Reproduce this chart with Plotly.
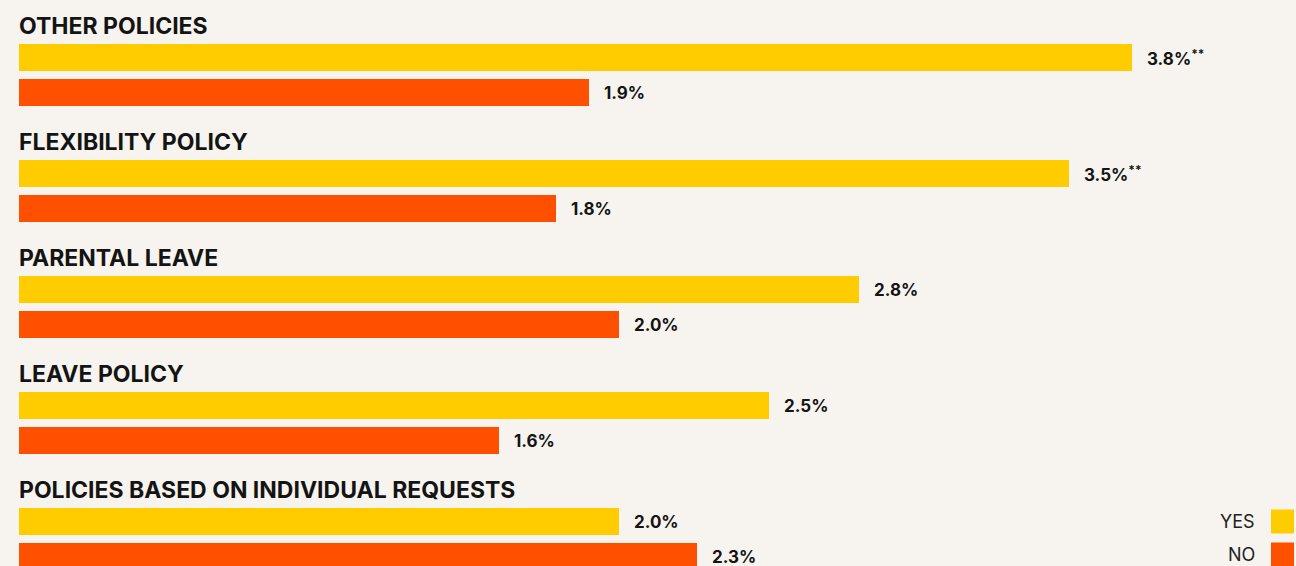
import plotly.graph_objects as go

categories = ["OTHER POLICIES", "FLEXIBILITY POLICY", "PARENTAL LEAVE", "LEAVE POLICY",
              "POLICIES BASED ON INDIVIDUAL REQUESTS"]
yes_values = [3.71, 3.50, 2.80, 2.50, 2.00]
no_values = [1.90, 1.79, 2.00, 1.60, 2.26]
yes_labels = ["3.8%<sup>**</sup>", "3.5%<sup>**</sup>", "2.8%", "2.5%", "2.0%"]
no_labels = ["1.9%", "1.8%", "2.0%", "1.6%", "2.3%"]
series_names = ["YES", "NO"]

YELLOW = "#FFCC00"
ORANGE = "#FF5000"
BG = "#F7F4EF"
TXT = "#141414"

W, H = 1296, 566
L = 19
PITCH = 116
BAR_H = 27
YES_OFF = 57.5
NO_OFF = 92.5
TITLE_OFF = 25.5
PX_PER_UNIT = 300.0
plot_w = W - L

yes_y = [i * PITCH + YES_OFF for i in range(len(categories))]
no_y = [i * PITCH + NO_OFF for i in range(len(categories))]

fig = go.Figure()
fig.add_trace(go.Bar(x=yes_values, y=yes_y, orientation="h", width=BAR_H,
                     marker=dict(color=YELLOW, line=dict(width=0)), name=series_names[0],
                     hoverinfo="skip"))
fig.add_trace(go.Bar(x=no_values, y=no_y, orientation="h", width=BAR_H,
                     marker=dict(color=ORANGE, line=dict(width=0)), name=series_names[1],
                     hoverinfo="skip"))

annotations = []
for i, c in enumerate(categories):
    annotations.append(dict(x=0, y=i * PITCH + TITLE_OFF, xref="x", yref="y", text=c,
                            showarrow=False, xanchor="left", yanchor="middle", xshift=-2,
                            font=dict(family="Inter", size=23, color=TXT, weight=700)))
for v, y, t in zip(yes_values, yes_y, yes_labels):
    annotations.append(dict(x=v, y=y, xref="x", yref="y", text=t, showarrow=False,
                            xanchor="left", yanchor="middle", xshift=13,
                            font=dict(family="Inter", size=17, color=TXT, weight=700)))
for v, y, t in zip(no_values, no_y, no_labels):
    annotations.append(dict(x=v, y=y, xref="x", yref="y", text=t, showarrow=False,
                            xanchor="left", yanchor="middle", xshift=13,
                            font=dict(family="Inter", size=17, color=TXT, weight=700)))

# manual legend: text to the left of the swatch
leg_y = [521.5, 554.5]
shapes = []
for name, col, yy in zip(series_names, [YELLOW, ORANGE], leg_y):
    annotations.append(dict(x=(1257 - L) / plot_w, y=yy, xref="paper", yref="y", text=name,
                            showarrow=False, xanchor="right", yanchor="middle",
                            font=dict(family="Inter", size=18, color="#222")))
    shapes.append(dict(type="rect", xref="paper", yref="y",
                       x0=(1271 - L) / plot_w, x1=(1294 - L) / plot_w,
                       y0=yy - 12, y1=yy + 12, fillcolor=col, line=dict(width=0)))

fig.update_layout(
    width=W, height=H,
    margin=dict(l=L, r=0, t=0, b=0),
    paper_bgcolor=BG, plot_bgcolor=BG,
    showlegend=False,
    barmode="overlay",
    xaxis=dict(range=[0, plot_w / PX_PER_UNIT], visible=False, fixedrange=True),
    yaxis=dict(range=[H, 0], visible=False, fixedrange=True),
    annotations=annotations,
    shapes=shapes,
)

fig.write_html("out.html", config={"displayModeBar": False},
               post_script="document.body.style.margin='0';document.body.style.background='#F7F4EF';")
